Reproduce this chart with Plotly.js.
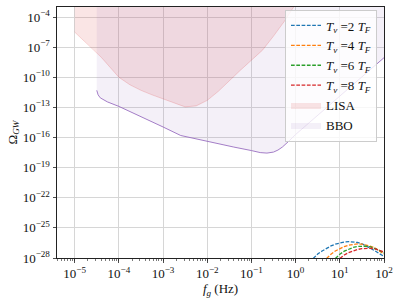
<!DOCTYPE html>
<html>
<head>
<meta charset="utf-8">
<script src="https://cdn.plot.ly/plotly-3.0.1.min.js"></script>
<style>html,body{margin:0;padding:0;background:#fff;}#chart{width:400px;height:300px;}</style>
</head>
<body>
<div id="chart"></div>
<script>
// ---- data ----
// LISA sensitivity boundary: frequency (Hz) and log10(Omega_GW)
const lisaFreq = [1e-5, 1.58e-5, 2.51e-5, 3.98e-5, 6.31e-5, 1e-4, 1.78e-4, 3.16e-4, 5.62e-4, 1e-3, 1.78e-3, 3.16e-3, 5.62e-3, 1e-2, 1.78e-2, 3.16e-2, 5.62e-2, 0.1, 0.178, 0.316, 0.562, 1.0];
const lisaLogOmega = [-5.5, -6.3, -7.1, -8.0, -9.0, -10.0, -10.75, -11.3, -11.75, -12.15, -12.6, -12.95, -12.85, -12.3, -11.4, -10.3, -9.3, -8.3, -7.3, -5.9, -4.4, -2.7];

// BBO sensitivity boundary
const bboFreq = [3.16e-5, 3.39e-5, 3.8e-5, 4.47e-5, 5.5e-5, 1e-4, 3.16e-4, 1e-3, 2.51e-3, 1e-2, 3.98e-2, 0.1, 0.158, 0.224, 0.316, 0.398, 0.501, 0.708, 1.0, 2.0, 3.98, 10, 31.6, 100];
const bboLogOmega = [-11.3, -11.75, -12.05, -12.25, -12.45, -12.9, -13.9, -14.95, -15.8, -16.4, -16.95, -17.3, -17.5, -17.55, -17.45, -17.25, -16.95, -16.35, -15.7, -14.55, -13.4, -11.85, -9.95, -8.05];

// GW spectra for different T_v
const humpFreq = [2.5, 3.16, 3.98, 5.01, 6.31, 7.94, 10, 12.6, 15.8, 20, 25.1, 31.6, 39.8, 50.1, 63.1, 79.4, 100];
const tv2LogOmega = [-28.05, -27.6, -27.3, -27.03, -26.8, -26.62, -26.48, -26.4, -26.37, -26.38, -26.45, -26.58, -26.78, -27.05, -27.3, -27.6, -27.85];
const tv4LogOmega = [null, null, null, -28.05, -27.62, -27.3, -27.05, -26.86, -26.72, -26.63, -26.6, -26.62, -26.7, -26.83, -27.02, -27.3, -27.6];
const tv6LogOmega = [null, null, null, null, null, -28.05, -27.62, -27.32, -27.1, -26.95, -26.85, -26.8, -26.82, -26.9, -27.05, -27.25, -27.5];
const tv8LogOmega = [null, null, null, null, null, null, -28.05, -27.7, -27.47, -27.28, -27.15, -27.07, -27.03, -27.03, -27.1, -27.22, -27.4];

const seriesNames = ['<i>T<sub>v</sub></i> =2 <i>T<sub>F</sub></i>', '<i>T<sub>v</sub></i> =4 <i>T<sub>F</sub></i>', '<i>T<sub>v</sub></i> =6 <i>T<sub>F</sub></i>', '<i>T<sub>v</sub></i> =8 <i>T<sub>F</sub></i>'];
const seriesColors = ['#1f77b4', '#ff7f0e', '#2ca02c', '#d62728'];

const xTickVals = [1e-5, 1e-4, 1e-3, 1e-2, 1e-1, 1, 10, 100];
const xTickText = ['10<sup>−5</sup>', '10<sup>−4</sup>', '10<sup>−3</sup>', '10<sup>−2</sup>', '10<sup>−1</sup>', '10<sup>0</sup>', '10<sup>1</sup>', '10<sup>2</sup>'];
const yTickVals = [1e-28, 1e-25, 1e-22, 1e-19, 1e-16, 1e-13, 1e-10, 1e-7, 1e-4];
const yTickText = ['10<sup>−28</sup>', '10<sup>−25</sup>', '10<sup>−22</sup>', '10<sup>−19</sup>', '10<sup>−16</sup>', '10<sup>−13</sup>', '10<sup>−10</sup>', '10<sup>−7</sup>', '10<sup>−4</sup>'];

const TOP = 1; // fill regions extend above the visible range
const pw = v => (v === null ? null : Math.pow(10, v));

// ---- traces ----
const traces = [];
traces.push({
  x: [lisaFreq[0]].concat(lisaFreq, [lisaFreq[lisaFreq.length - 1], lisaFreq[0]]),
  y: [TOP].concat(lisaLogOmega.map(pw), [TOP, TOP]),
  mode: 'lines', fill: 'toself', fillcolor: 'rgba(214,39,40,0.12)',
  line: {width: 0, color: 'rgba(214,39,40,0.12)'},
  name: 'LISA', legendrank: 5, hoverinfo: 'skip'
});
traces.push({
  x: [bboFreq[0]].concat(bboFreq, [bboFreq[bboFreq.length - 1], bboFreq[0]]),
  y: [TOP].concat(bboLogOmega.map(pw), [TOP, TOP]),
  mode: 'lines', fill: 'toself', fillcolor: 'rgba(148,103,189,0.1)',
  line: {width: 0, color: 'rgba(148,103,189,0.1)'},
  name: 'BBO', legendrank: 6, hoverinfo: 'skip'
});
traces.push({x: lisaFreq, y: lisaLogOmega.map(pw), mode: 'lines',
  line: {color: 'rgba(214,39,40,0.18)', width: 1}, showlegend: false, hoverinfo: 'skip'});
traces.push({x: bboFreq, y: bboLogOmega.map(pw), mode: 'lines',
  line: {color: 'rgba(148,103,189,0.85)', width: 1}, showlegend: false, hoverinfo: 'skip'});
[tv2LogOmega, tv4LogOmega, tv6LogOmega, tv8LogOmega].forEach((arr, i) => {
  traces.push({
    x: humpFreq, y: arr.map(pw), mode: 'lines', name: seriesNames[i],
    line: {color: seriesColors[i], width: 1.3, dash: '3.7px,1.6px'},
    legendrank: i + 1, connectgaps: false
  });
});

const FONT = 'Liberation Serif, serif';
const layout = {
  width: 400, height: 300,
  margin: {l: 57, r: 16, t: 7, b: 42, pad: 0},
  paper_bgcolor: '#fff', plot_bgcolor: '#fff',
  font: {family: FONT, size: 13, color: '#111'},
  showlegend: true,
  xaxis: {
    type: 'log', range: [-5.4, 2],
    tickmode: 'array', tickvals: xTickVals, ticktext: xTickText,
    ticks: 'outside', ticklen: 3.5, tickwidth: 0.8, tickcolor: '#222',
    showline: true, mirror: true, linecolor: '#222', linewidth: 1,
    showgrid: true, gridcolor: '#d6d6d6', gridwidth: 1, zeroline: false,
    tickfont: {family: FONT, size: 13, color: '#111'},
    minor: {tickmode: 'linear', tick0: 0, dtick: 'D1', ticks: 'outside', ticklen: 2, tickwidth: 0.6, tickcolor: '#222', showgrid: false},
    title: {text: '<i>f<sub>g</sub></i> (Hz)', font: {family: FONT, size: 13, color: '#111'}, standoff: 0}
  },
  yaxis: {
    type: 'log', range: [-28, -3],
    tickmode: 'array', tickvals: yTickVals, ticktext: yTickText,
    ticks: 'outside', ticklen: 3.5, tickwidth: 0.8, tickcolor: '#222',
    showline: true, mirror: true, linecolor: '#222', linewidth: 1,
    showgrid: true, gridcolor: '#d6d6d6', gridwidth: 1, zeroline: false,
    tickfont: {family: FONT, size: 13, color: '#111'},
    title: {text: 'Ω<sub><i>GW</i></sub>', font: {family: FONT, size: 13, color: '#111'}, standoff: 2}
  },
  legend: {
    x: 0.9786, y: 0.99, xanchor: 'right', yanchor: 'top',
    bgcolor: 'rgba(255,255,255,0.8)', bordercolor: '#cccccc', borderwidth: 1,
    font: {family: FONT, size: 13, color: '#111'},
    tracegroupgap: 0
  }
};

Plotly.newPlot('chart', traces, layout, {staticPlot: true, displayModeBar: false});
</script>
</body>
</html>
